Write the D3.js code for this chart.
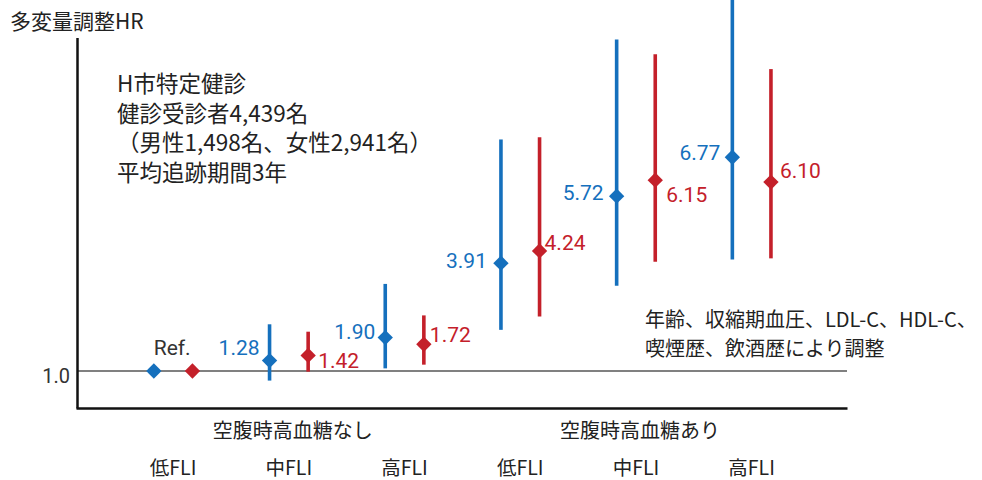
<!DOCTYPE html>
<html>
<head>
<meta charset="utf-8">
<script src="https://cdn.jsdelivr.net/npm/d3@7"></script>
<style>
  body { margin: 0; background: #fff; }
  svg { display: block; }
  .jp { font-family: "Noto Sans CJK JP", "Noto Sans", sans-serif; fill: #222; }
  .num { font-family: "Liberation Sans Narrow", "Roboto", "Liberation Sans", sans-serif; }
</style>
</head>
<body>
<svg id="chart" width="982" height="480"></svg>
<script>
// ---- data ----
const categories = ["低FLI", "中FLI", "高FLI", "低FLI", "中FLI", "高FLI"];
const groups = ["空腹時高血糖なし", "空腹時高血糖あり"];
const blueHR    = [1.00, 1.28, 1.90, 3.91, 5.72, 6.77];
const blueLower = [null, 0.74, 1.07, 2.11, 3.30, 4.01];
const blueUpper = [null, 2.26, 3.35, 7.25, 9.95, 11.1];
const redHR     = [1.00, 1.42, 1.72, 4.24, 6.15, 6.10];
const redLower  = [null, 0.98, 1.17, 2.47, 3.95, 4.04];
const redUpper  = [null, 2.06, 2.50, 7.31, 9.55, 9.15];
const yTicks = [1.0];
const titleText = "多変量調整HR";
const noteLines = ["H市特定健診", "健診受診者4,439名", "（男性1,498名、女性2,941名）", "平均追跡期間3年"];
const adjustLines = ["年齢、収縮期血圧、LDL-C、HDL-C、", "喫煙歴、飲酒歴により調整"];

// ---- label nudges (layout only) ----
const blueLabelDx = [0, -10, -10, -14, -13, -12];
const blueLabelDy = [0, -13, -6, -3, -4, -5];
const redLabelDx  = [0, 10, 6, 5, 11, 9];
const redLabelDy  = [0, 5, -10, -9, 14, -12];

const BLUE = "#1570bd", RED = "#c4202a";

const svg = d3.select("#chart");
const left = 77, right = 847;
const y = d3.scaleLinear().domain([0, 10]).range([408, 37.6]);
const x = d3.scaleBand().domain(d3.range(categories.length)).range([115.3, 809.5]);
const off = 19.3;
const cx = i => x(i) + x.bandwidth() / 2;

// reference line at 1.0
svg.append("line")
  .attr("x1", left).attr("x2", right)
  .attr("y1", y(1)).attr("y2", y(1))
  .attr("stroke", "#808080").attr("stroke-width", 2);

// y axis
const yAxis = d3.axisLeft(y).tickValues(yTicks).tickSize(0).tickFormat(d3.format(".1f"));
const gy = svg.append("g").attr("transform", `translate(${left},0)`).call(yAxis);
gy.select(".domain").attr("stroke", "#111").attr("stroke-width", 2.5);
gy.selectAll("text").attr("class", "num").attr("font-size", 20).attr("fill", "#333")
  .attr("x", -7).attr("dy", "0.6em");

// x axis
const gx = svg.append("g").attr("transform", `translate(0,${y(0)})`)
  .call(d3.axisBottom(d3.scaleLinear().domain([0,1]).range([left - 1, right])).tickValues([]).tickSizeOuter(0));
gx.select(".domain").attr("stroke", "#111").attr("stroke-width", 2.5);

// category labels
svg.selectAll(".cat").data(categories).enter().append("text")
  .attr("class", "jp")
  .attr("x", (d, i) => cx(i)).attr("y", 475)
  .attr("text-anchor", "middle").attr("font-size", 19.5)
  .text(d => d);

// group labels
svg.selectAll(".grp").data(groups).enter().append("text")
  .attr("class", "jp")
  .attr("x", (d, i) => (cx(i * 3) + cx(i * 3 + 2)) / 2 + 4).attr("y", 438)
  .attr("text-anchor", "middle").attr("font-size", 20)
  .text(d => d);

// title
svg.append("text").attr("class", "jp").attr("x", 10).attr("y", 29)
  .attr("font-size", 21).text(titleText);

// note
svg.selectAll(".note").data(noteLines).enter().append("text")
  .attr("class", "jp").attr("x", 117).attr("y", (d, i) => 92 + i * 29.6)
  .attr("font-size", 22.5).text(d => d);

// adjust note
svg.selectAll(".adj").data(adjustLines).enter().append("text")
  .attr("class", "jp").attr("x", 645).attr("y", (d, i) => 327 + i * 28.5)
  .attr("font-size", 20).text(d => d);

function drawSeries(hr, lo, hi, color, dxArr, dyArr, sign, anchor) {
  const idx = d3.range(hr.length);
  const g = svg.append("g");
  g.selectAll("line").data(idx.filter(i => lo[i] != null)).enter().append("line")
    .attr("x1", i => cx(i) + sign * off).attr("x2", i => cx(i) + sign * off)
    .attr("y1", i => y(lo[i])).attr("y2", i => Math.max(0, y(hi[i])))
    .attr("stroke", color).attr("stroke-width", 3.6);
  const sym = d3.symbol().type(d3.symbolDiamond2).size(150);
  g.selectAll("path").data(idx).enter().append("path")
    .attr("d", sym)
    .attr("transform", i => `translate(${cx(i) + sign * off},${y(hr[i])})`)
    .attr("fill", color);
  g.selectAll("text").data(idx.filter(i => i > 0)).enter().append("text")
    .attr("class", "num")
    .attr("x", i => cx(i) + sign * off + dxArr[i])
    .attr("y", i => y(hr[i]) + dyArr[i])
    .attr("dy", "0.36em")
    .attr("text-anchor", anchor)
    .attr("font-size", 21)
    .attr("fill", color)
    .text(i => hr[i].toFixed(2));
}
drawSeries(blueHR, blueLower, blueUpper, BLUE, blueLabelDx, blueLabelDy, -1, "end");
drawSeries(redHR, redLower, redUpper, RED, redLabelDx, redLabelDy, 1, "start");

// Ref. label
svg.append("text").attr("class", "num")
  .attr("x", cx(0) - 1).attr("y", 347).attr("dy", "0.36em")
  .attr("text-anchor", "middle").attr("font-size", 21).attr("fill", "#333")
  .text("Ref.");
</script>
</body>
</html>
